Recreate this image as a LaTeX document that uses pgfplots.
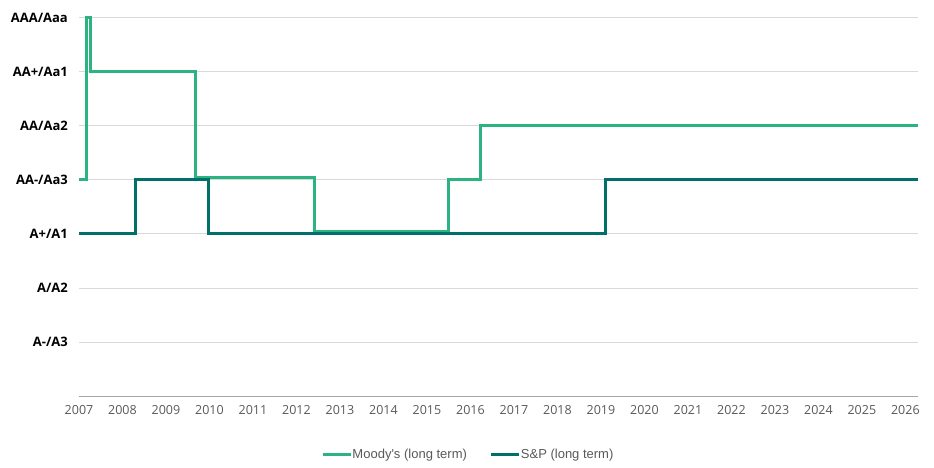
\documentclass[border=0pt]{standalone}
\usepackage{pgfplots}
\pgfplotsset{compat=1.18}
\usepackage{fontspec}
\setmainfont{Open Sans}
\newfontfamily\legfont{Liberation Sans}
\definecolor{moody}{HTML}{2BB381}
\definecolor{sp}{HTML}{00706A}
\definecolor{gridc}{HTML}{D9D9D9}
\definecolor{axc}{HTML}{A6A6A6}
\definecolor{txt}{HTML}{595959}
\begin{document}
\begin{tikzpicture}
\begin{axis}[
  scale only axis,
  width=839bp, height=378bp,
  xmin=2007, xmax=2026.29,
  ymin=0, ymax=7,
  axis x line*=bottom, axis y line*=left,
  x axis line style={draw=axc, line width=1bp},
  y axis line style={draw=none},
  major tick length=0pt,
  /pgf/number format/assume math mode=true,
  xtick={2007,2008,...,2026},
  xticklabel style={font=\fontsize{12.5bp}{14bp}\selectfont, text=txt, yshift=-6bp},
  xticklabel={\pgfmathprintnumber[1000 sep={}, precision=0, assume math mode=true]{\tick}},
  ytick={1,2,3,4,5,6,7},
  yticklabels={A-/A3, A/A2, A+/A1, AA-/Aa3, AA/Aa2, AA+/Aa1, AAA/Aaa},
  yticklabel style={font=\bfseries\fontsize{13bp}{15bp}\selectfont, text=black, anchor=east, inner sep=0pt, xshift=-11bp},
  ymajorgrids,
  grid style={draw=gridc, line width=1bp},
  clip=false,
  legend columns=2,
  legend style={at={(0.463,-0.156)}, anchor=center, draw=none, inner sep=0pt,
    font=\legfont\fontsize{13bp}{15bp}\selectfont, text=txt,
    nodes={inner sep=0pt}, column sep=0pt},
  legend image code/.code={\draw[#1, line width=3bp] (0bp,0bp) -- (28bp,0bp);},
]
\addplot[const plot, color=moody, line width=3bp, line join=miter] coordinates {
  (2007,4) (2007.17,7) (2007.27,6) (2009.69,4.05) (2012.41,3.055) (2015.49,4) (2016.23,5) (2026.29,5)
};
\addlegendentry{Moody's (long term)\hspace*{23bp}}
\addplot[const plot, color=sp, line width=3bp, line join=miter] coordinates {
  (2007,3) (2008.30,4) (2009.98,3) (2019.11,4) (2026.29,4)
};
\addlegendentry{S\&P (long term)}
\end{axis}
\pgfresetboundingbox
\path[use as bounding box] (-79bp,-72bp) rectangle (855bp,396bp);
\end{tikzpicture}
\end{document}
